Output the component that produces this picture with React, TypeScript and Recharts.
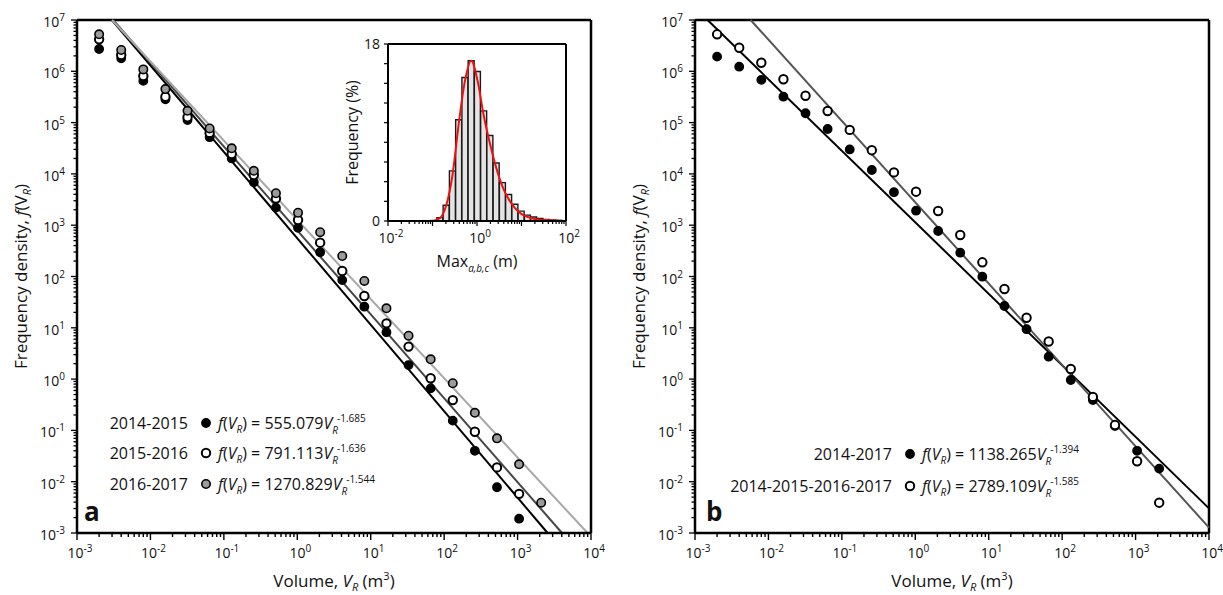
import React from "react";
import {
  ScatterChart,
  Scatter,
  XAxis,
  YAxis,
  ReferenceLine,
  ComposedChart,
  Bar,
  Line,
} from "recharts";

const FONT = "'Open Sans', 'Noto Sans', sans-serif";

// volume classes (m3)
const volumes = [
  0.002, 0.004, 0.008, 0.016, 0.032, 0.064, 0.128, 0.256, 0.512, 1.024, 2.048,
  4.096, 8.192, 16.38, 32.77, 65.54, 131.1, 262.1, 524.3, 1049, 2097,
];

// panel a
const dens1415 = [
  2.72e6, 1.79e6, 6.5e5, 2.85e5, 1.12e5, 5.2e4, 2.0e4, 6.9e3, 2.2e3, 890, 297,
  85, 25.8, 8.2, 1.88, 0.66, 0.155, 0.04, 0.0078, 0.0019,
];
const dens1516 = [
  4.2e6, 2.08e6, 8.1e5, 3.2e5, 1.27e5, 6.3e4, 2.44e4, 9.5e3, 3.3e3, 1260, 456,
  128, 41.7, 12.2, 4.3, 1.04, 0.39, 0.094, 0.019, 0.0058,
];
const dens1617 = [
  5.26e6, 2.6e6, 1.09e6, 4.5e5, 1.7e5, 7.7e4, 3.15e4, 1.15e4, 4.2e3, 1750, 730,
  251, 82, 24, 7.0, 2.43, 0.83, 0.22, 0.07, 0.0218, 0.0039,
];

// panel b
const dens1417 = [
  1.93e6, 1.23e6, 6.8e5, 3.2e5, 1.52e5, 7.5e4, 3.0e4, 1.19e4, 4.4e3, 1920, 771,
  291, 99, 26.6, 9.4, 2.73, 0.96, 0.39, 0.122, 0.04, 0.018,
];
const densAll = [
  5.26e6, 2.88e6, 1.47e6, 7.0e5, 3.34e5, 1.68e5, 7.2e4, 2.9e4, 1.07e4, 4.5e3,
  1890, 644, 189, 57, 15.7, 5.4, 1.57, 0.45, 0.127, 0.025, 0.0039,
];

// power-law fits f(V) = coef * V^exp
const fitNamesA = ["2014-2015", "2015-2016", "2016-2017"];
const fitCoefA = [555.079, 791.113, 1270.829];
const fitExpA = [-1.685, -1.636, -1.544];
const fitNamesB = ["2014-2017", "2014-2015-2016-2017"];
const fitCoefB = [1138.265, 2789.109];
const fitExpB = [-1.394, -1.585];

// inset histogram (Max a,b,c in m, frequency %)
const maxSize = [
  0.107, 0.1476, 0.2037, 0.2818, 0.389, 0.5383, 0.743, 1.026, 1.419, 1.959,
  2.71, 3.741, 5.164, 7.145, 9.863, 13.65, 18.84, 26.06, 35.97, 49.66, 68.71,
];
const maxFreq = [
  0.05, 0.34, 1.6, 5.1, 10.3, 14.6, 16.3, 15.2, 11.2, 8.7, 5.9, 3.9, 2.7, 1.7,
  1.0, 0.6, 0.4, 0.27, 0.17, 0.1, 0.07,
];
const maxFit = [
  0.03, 0.3, 1.6, 4.7, 9.9, 14.3, 16.3, 14.3, 10.7, 7.85, 5.4, 3.5, 2.2, 1.3,
  0.72, 0.42, 0.22, 0.13, 0.09, 0.06, 0.03,
];

const xDecades = [1e-3, 1e-2, 1e-1, 1, 10, 100, 1000, 10000];
const yDecades = [1e-3, 1e-2, 1e-1, 1, 10, 100, 1e3, 1e4, 1e5, 1e6, 1e7];
const insetDecades = [0.01, 0.1, 1, 10, 100];
const insetLabelled = [0.01, 1, 100];
const insetYTicks = [0, 2, 4, 6, 8, 10, 12, 14, 16, 18];

const withMinor = (dec: number[]) => {
  const out: number[] = [];
  dec.forEach((d, i) => {
    out.push(d);
    if (i < dec.length - 1) for (let m = 2; m <= 9; m++) out.push(+(d * m).toPrecision(6));
  });
  return out;
};
const xTicks = withMinor(xDecades);
const yTicks = withMinor(yDecades);
const insetXTicks = withMinor(insetDecades);

const X_DOMAIN = [1e-3, 1e4];
const Y_DOMAIN = [1e-3, 1e7];

const pts = (ys: number[]) => ys.map((f, i) => ({ v: volumes[i], f }));

const fitSegment = (coef: number, exp: number) => {
  let x0 = X_DOMAIN[0];
  let y0 = coef * Math.pow(x0, exp);
  if (y0 > Y_DOMAIN[1]) {
    y0 = Y_DOMAIN[1];
    x0 = Math.pow(y0 / coef, 1 / exp);
  }
  let x1 = X_DOMAIN[1];
  let y1 = coef * Math.pow(x1, exp);
  if (y1 < Y_DOMAIN[0]) {
    y1 = Y_DOMAIN[0];
    x1 = Math.pow(y1 / coef, 1 / exp);
  }
  return [
    { x: x0, y: y0 },
    { x: x1, y: y1 },
  ];
};

const MARKERS: Record<string, { fill: string; sw: number }> = {
  black: { fill: "#000", sw: 1.4 },
  white: { fill: "#fff", sw: 2 },
  gray: { fill: "#9b9b9b", sw: 1.6 },
};

const dot = (kind: string) => (p: any) =>
  <circle cx={p.cx} cy={p.cy} r={4.2} fill={MARKERS[kind].fill} stroke="#000" strokeWidth={MARKERS[kind].sw} />;

const isDecade = (v: number) => Math.abs(Math.log10(v) - Math.round(Math.log10(v))) < 1e-6;

const Pow = ({ v }: { v: number }) => (
  <>
    10<tspan dy={-6} fontSize={10}>{Math.round(Math.log10(v))}</tspan>
  </>
);

const BottomTick = (props: any) => {
  const { x, y, payload } = props;
  const v = payload.value;
  const major = isDecade(v);
  return (
    <g>
      <line x1={x} x2={x} y1={y} y2={y + (major ? 7 : 4)} stroke="#000" strokeWidth={1.4} />
      {major && (
        <text x={x + 3} y={y + 25} textAnchor="middle" fontFamily={FONT} fontSize={14} fill="#111">
          <Pow v={v} />
        </text>
      )}
    </g>
  );
};

const LeftTick = (props: any) => {
  const { x, y, payload } = props;
  const v = payload.value;
  const major = isDecade(v);
  return (
    <g>
      <line x1={x} x2={x - (major ? 6 : 3.5)} y1={y} y2={y} stroke="#000" strokeWidth={1.3} />
      {major && (
        <text x={x - 12} y={y + 7} textAnchor="end" fontFamily={FONT} fontSize={14} fill="#111">
          <Pow v={v} />
        </text>
      )}
    </g>
  );
};

const InsetBottomTick = (props: any) => {
  const { x, y, payload } = props;
  const v = payload.value;
  const major = isDecade(v);
  const labelled = insetLabelled.some((t) => Math.abs(t - v) / t < 1e-6);
  return (
    <g>
      <line x1={x} x2={x} y1={y} y2={y + (major ? 5 : 3)} stroke="#000" strokeWidth={1.2} />
      {labelled && (
        <text x={x + 3} y={y + 22} textAnchor="middle" fontFamily={FONT} fontSize={14} fill="#111">
          <Pow v={v} />
        </text>
      )}
    </g>
  );
};

const InsetLeftTick = (props: any) => {
  const { x, y, payload } = props;
  const v = payload.value;
  return (
    <g>
      <line x1={x} x2={x - 4} y1={y} y2={y} stroke="#000" strokeWidth={1.2} />
      {(v === 0 || v === 18) && (
        <text x={x - 8} y={y + 5} textAnchor="end" fontFamily={FONT} fontSize={14} fill="#111">
          {v}
        </text>
      )}
    </g>
  );
};

const XTitle = (props: any) => {
  const vb = props.viewBox;
  return (
    <text x={vb.x + vb.width / 2} y={vb.y + 54} textAnchor="middle" fontFamily={FONT} fontSize={17} fill="#111">
      Volume, <tspan fontStyle="italic">V</tspan>
      <tspan fontStyle="italic" fontSize={11} dy={4}>R</tspan>
      <tspan dy={-4}> (m</tspan>
      <tspan fontSize={11} dy={-7}>3</tspan>
      <tspan dy={7}>)</tspan>
    </text>
  );
};

const YTitle = (props: any) => {
  const vb = props.viewBox;
  const tx = vb.x + 7;
  const ty = vb.y + vb.height / 2;
  return (
    <text x={tx} y={ty} transform={`rotate(-90, ${tx}, ${ty})`} textAnchor="middle" fontFamily={FONT} fontSize={17} fill="#111">
      Frequency density, <tspan fontStyle="italic">f</tspan>(V
      <tspan fontStyle="italic" fontSize={11} dy={4}>R</tspan>
      <tspan dy={-4}>)</tspan>
    </text>
  );
};

const Equation = ({ x, y, coef, exp }: { x: number; y: number; coef: number; exp: number }) => (
  <text x={x} y={y} fontFamily={FONT} fontSize={16} fill="#111">
    <tspan fontStyle="italic">f</tspan>
    <tspan>(</tspan>
    <tspan fontStyle="italic">V</tspan>
    <tspan fontStyle="italic" fontSize={10} dy={4}>R</tspan>
    <tspan dy={-4}>{") = " + coef.toFixed(3)}</tspan>
    <tspan fontStyle="italic">V</tspan>
    <tspan fontStyle="italic" fontSize={10} dy={5}>R</tspan>
    <tspan fontSize={10} dy={-12} dx={-1}>{exp.toFixed(3)}</tspan>
  </text>
);

const Legend = ({ names, coefs, exps, kinds, right, rowY }: any) => (
  <g>
    {names.map((n: string, i: number) => (
      <g key={n}>
        <text x={right} y={rowY[i] + 6} textAnchor="end" fontFamily={FONT} fontSize={16} fill="#111">
          {n}
        </text>
        {dot(kinds[i])({ cx: right + 18, cy: rowY[i] })}
        <Equation x={right + 30} y={rowY[i] + 6} coef={coefs[i]} exp={exps[i]} />
      </g>
    ))}
  </g>
);

const CHART_W = 610;
const CHART_H = 595;
const MARGIN = { top: 20, right: 19, bottom: 22, left: 20 };

function Panel({ series, fits }: { series: { data: { v: number; f: number }[]; kind: string }[]; fits: { coef: number; exp: number; stroke: string }[] }) {
  return (
    <ScatterChart width={CHART_W} height={CHART_H} margin={MARGIN}>
      <XAxis
        dataKey="v"
        type="number"
        scale="log"
        domain={X_DOMAIN}
        allowDataOverflow
        ticks={xTicks}
        interval={0}
        tickSize={0}
        tickMargin={0}
        tickLine={false}
        tick={(p: any) => <BottomTick {...p} />}
        axisLine={{ stroke: "#000", strokeWidth: 2.5 }}
        height={40}
        label={(p: any) => <XTitle {...p} />}
      />
      <YAxis
        dataKey="f"
        type="number"
        scale="log"
        domain={Y_DOMAIN}
        allowDataOverflow
        ticks={yTicks}
        interval={0}
        tickSize={0}
        tickMargin={0}
        tickLine={false}
        tick={(p: any) => <LeftTick {...p} />}
        axisLine={{ stroke: "#000", strokeWidth: 2.5 }}
        width={57}
        label={(p: any) => <YTitle {...p} />}
      />
      <ReferenceLine y={Y_DOMAIN[1]} stroke="#000" strokeWidth={2.5} />
      <ReferenceLine x={X_DOMAIN[1]} stroke="#000" strokeWidth={2.5} />
      {fits.map((ft, i) => (
        <ReferenceLine key={i} segment={fitSegment(ft.coef, ft.exp)} stroke={ft.stroke} strokeWidth={2} ifOverflow="visible" />
      ))}
      {series.map((s, i) => (
        <Scatter key={i} data={s.data} shape={dot(s.kind)} isAnimationActive={false} />
      ))}
    </ScatterChart>
  );
}

function Inset() {
  const rows = maxSize.map((d, i) => ({ d, freq: maxFreq[i], fit: maxFit[i] }));
  return (
    <ComposedChart width={266} height={250} data={rows} margin={{ top: 10, right: 30, bottom: 33, left: 8 }} barCategoryGap={0} barGap={0}>
      <XAxis
        dataKey="d"
        type="number"
        scale="log"
        domain={[0.01, 100]}
        allowDataOverflow
        ticks={insetXTicks}
        interval={0}
        tickSize={0}
        tickMargin={0}
        tickLine={false}
        tick={(p: any) => <InsetBottomTick {...p} />}
        axisLine={{ stroke: "#000", strokeWidth: 2 }}
        height={30}
        label={(p: any) => {
          const vb = p.viewBox;
          return (
            <text x={vb.x + vb.width / 2} y={vb.y + 46} textAnchor="middle" fontFamily={FONT} fontSize={16} fill="#111">
              Max<tspan fontStyle="italic" fontSize={10} dy={5}>a,b,c</tspan>
              <tspan dy={-5}> (m)</tspan>
            </text>
          );
        }}
      />
      <YAxis
        type="number"
        domain={[0, 18]}
        allowDataOverflow
        ticks={insetYTicks}
        interval={0}
        tickSize={0}
        tickMargin={0}
        tickLine={false}
        tick={(p: any) => <InsetLeftTick {...p} />}
        axisLine={{ stroke: "#000", strokeWidth: 2 }}
        width={50}
        label={(p: any) => {
          const vb = p.viewBox;
          const tx = vb.x + 20;
          const ty = vb.y + vb.height / 2;
          return (
            <text x={tx} y={ty} transform={`rotate(-90, ${tx}, ${ty})`} textAnchor="middle" fontFamily={FONT} fontSize={16} fill="#111">
              Frequency (%)
            </text>
          );
        }}
      />
      <Bar dataKey="freq" barSize={6} fill="#e4e4e4" stroke="#1a1a1a" strokeWidth={1.4} isAnimationActive={false} />
      <Line dataKey="fit" type="monotone" stroke="#ee1111" strokeWidth={2} dot={false} isAnimationActive={false} />
      <ReferenceLine y={18} stroke="#000" strokeWidth={2} />
      <ReferenceLine x={100} stroke="#000" strokeWidth={2} />
    </ComposedChart>
  );
}

export default function App() {
  const seriesA = [
    { data: pts(dens1415), kind: "black" },
    { data: pts(dens1516), kind: "white" },
    { data: pts(dens1617), kind: "gray" },
  ];
  const seriesB = [
    { data: pts(dens1417), kind: "black" },
    { data: pts(densAll), kind: "white" },
  ];
  const strokesA = ["#000000", "#474747", "#a8a8a8"];
  const strokesB = ["#000000", "#555555"];
  const fitsA = fitCoefA.map((c, i) => ({ coef: c, exp: fitExpA[i], stroke: strokesA[i] }));
  const fitsB = fitCoefB.map((c, i) => ({ coef: c, exp: fitExpB[i], stroke: strokesB[i] }));

  return (
    <div style={{ position: "absolute", left: 0, top: 0, width: 1223, height: 595, background: "#fff", fontFamily: FONT }}>
      <div style={{ position: "absolute", left: 0, top: 0 }}>
        <Panel series={seriesA} fits={fitsA} />
      </div>
      <div style={{ position: "absolute", left: 618, top: 0 }}>
        <Panel series={seriesB} fits={fitsB} />
      </div>
      <div style={{ position: "absolute", left: 330, top: 34 }}>
        <Inset />
      </div>
      <svg width={1223} height={595} style={{ position: "absolute", left: 0, top: 0, pointerEvents: "none" }}>
        <Legend names={fitNamesA} coefs={fitCoefA} exps={fitExpA} kinds={["black", "white", "gray"]} right={188} rowY={[423, 453, 484]} />
        <Legend names={fitNamesB} coefs={fitCoefB} exps={fitExpB} kinds={["black", "white"]} right={892} rowY={[454, 486]} />
        <text x={84} y={521} fontFamily={FONT} fontSize={26} fontWeight="bold" fill="#111">a</text>
        <text x={706} y={521} fontFamily={FONT} fontSize={26} fontWeight="bold" fill="#111">b</text>
      </svg>
    </div>
  );
}
